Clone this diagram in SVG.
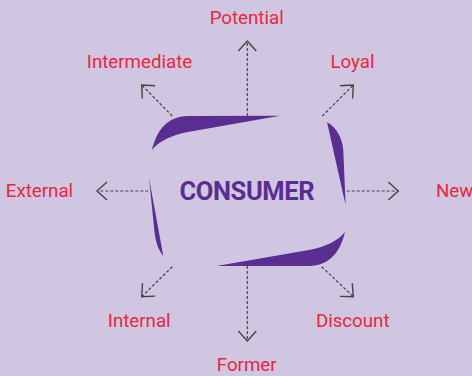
<svg xmlns="http://www.w3.org/2000/svg" width="472" height="376" viewBox="0 0 472 376">
<style>
.lbl{font-family:Roboto,"Liberation Sans",sans-serif;font-size:18.7px;fill:#E8283C;text-anchor:middle}
.swoosh{fill:#5A2D90}
.conn{fill:none;stroke:#444;stroke-width:1.2;stroke-dasharray:3 2}
.ah{fill:none;stroke:#444;stroke-width:1.4}
</style>
<defs>
<marker id="arr" markerUnits="userSpaceOnUse" viewBox="-12 -11 14 22" refX="0" refY="0" markerWidth="14" markerHeight="22" orient="auto">
<path class="ah" d="M-10,-9 L0,0 L-10,9"/>
</marker>
</defs>
<rect width="472" height="376" fill="#D1C6E2"/>
<g id="connectors">
<line class="conn" x1="247.3" y1="116" x2="247.3" y2="41" marker-end="url(#arr)"/>
<line class="conn" x1="247.3" y1="266" x2="247.3" y2="341" marker-end="url(#arr)"/>
<line class="conn" x1="148.3" y1="191" x2="97" y2="191" marker-end="url(#arr)"/>
<line class="conn" x1="346.7" y1="191" x2="398.3" y2="191" marker-end="url(#arr)"/>
<line class="conn" x1="172.3" y1="116" x2="141.7" y2="85" marker-end="url(#arr)"/>
<line class="conn" x1="322.3" y1="116" x2="353.3" y2="85" marker-end="url(#arr)"/>
<line class="conn" x1="172.3" y1="266.7" x2="141.7" y2="296.7" marker-end="url(#arr)"/>
<line class="conn" x1="321.7" y1="266.7" x2="353.3" y2="296.7" marker-end="url(#arr)"/>
</g>
<g id="consumer">
<path class="swoosh" d="M152,150 C157,130 167,116.5 188,116 L280,115.7 L188,132 C172,135 159,141 152,150 Z"/>
<path class="swoosh" d="M327,122 C337,128 342,138 343.3,150 L345.6,205 L327,122 Z"/>
<path class="swoosh" d="M345,232 C340,252 330,265.5 309,266 L216.5,266 L309,250 C325,247 338,241 345,232 Z"/>
<path class="swoosh" d="M149,178 L154.5,232 C156,244 159,251 163.3,256 Z"/>
<text x="247" y="200" font-family="Roboto,'Liberation Sans',sans-serif" font-weight="bold" font-size="25.5" fill="#5A2D90" text-anchor="middle" textLength="135" lengthAdjust="spacing">CONSUMER</text>
</g>
<g id="potential"><text class="lbl" x="246.7" y="24">Potential</text></g>
<g id="intermediate"><text class="lbl" x="139.5" y="68.3">Intermediate</text></g>
<g id="loyal"><text class="lbl" x="352.5" y="68.3">Loyal</text></g>
<g id="external"><text class="lbl" x="39.5" y="196.7">External</text></g>
<g id="new"><text class="lbl" x="436" y="196.7" style="text-anchor:start">New</text></g>
<g id="internal"><text class="lbl" x="139.2" y="326.7">Internal</text></g>
<g id="discount"><text class="lbl" x="352.7" y="326.7">Discount</text></g>
<g id="former"><text class="lbl" x="246.7" y="370.7">Former</text></g>
</svg>
